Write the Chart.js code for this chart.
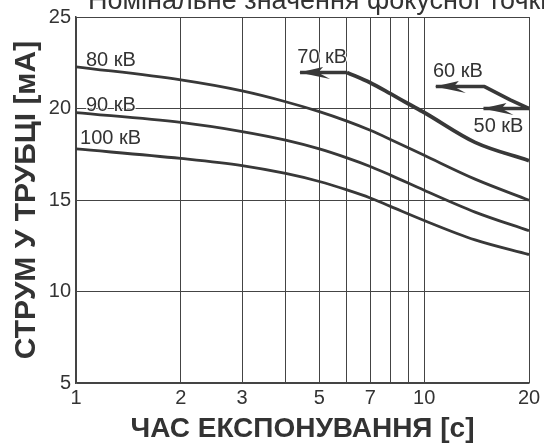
<!DOCTYPE html>
<html>
<head>
<meta charset="utf-8">
<script src="https://cdn.jsdelivr.net/npm/chart.js@4/dist/chart.umd.min.js"></script>
<style>
  html, body { margin: 0; padding: 0; background: #fff; }
  #wrap { width: 544px; height: 446px; }
</style>
</head>
<body>
<div id="wrap"><canvas id="c" width="544" height="446"></canvas></div>
<script>
// Exposure time [s] sample points and tube current [mA] for each tube voltage
const timeSeries = [1, 2, 3, 4, 5, 6, 7, 8, 10, 14, 20];
const current80kV = [22.28, 21.56, 20.96, 20.37, 19.83, 19.31, 18.81, 18.31, 17.44, 16.14, 14.99];
const current90kV = [19.78, 19.24, 18.74, 18.27, 17.79, 17.30, 16.83, 16.36, 15.53, 14.34, 13.32];
const current100kV = [17.79, 17.27, 16.88, 16.45, 16.01, 15.55, 15.11, 14.65, 13.88, 12.82, 12.02];

// Upper limit curve shared by 70/60/50 kV
const timeLimit = [6, 7, 8, 9, 10, 14, 20];
const currentLimit = [21.97, 21.41, 20.81, 20.26, 19.78, 18.15, 17.15];

// Arrow markers: [time, current] pairs, the first point is the arrow tip
const arrow70kV = [[4.4, 21.97], [6, 21.97]];
const arrow60kV = [[10.8, 21.2], [14.9, 21.2], [17.66, 20.47], [20, 20.0]];
const arrow50kV = [[14.8, 20.0], [20, 20.0]];

// Axis ticks
const xGridTicks = [1, 2, 3, 4, 5, 6, 7, 8, 9, 10, 20];
const xLabelTicks = [1, 2, 3, 5, 7, 10, 20];
const yTicks = [5, 10, 15, 20, 25];

// Curve labels, anchored in data space (time, current)
const curveLabels = [
  { text: '80 кВ', t: 1.068, v: 22.6 },
  { text: '90 кВ', t: 1.068, v: 20.19 },
  { text: '100 кВ', t: 1.027, v: 18.37 },
  { text: '70 кВ', t: 4.32, v: 22.77 },
  { text: '60 кВ', t: 10.6, v: 22.0 },
  { text: '50 кВ', t: 13.86, v: 19.02 }
];

const chartTitle = 'Номінальне значення фокусної точки';
const xTitle = 'ЧАС ЕКСПОНУВАННЯ [с]';
const yTitle = 'СТРУМ У ТРУБЦІ [мА]';

const FONT = "'Liberation Sans', Arial, sans-serif";
const INK = '#333333';
const LINE = '#383838';

const toPoints = (xs, ys) => xs.map((x, i) => ({ x, y: ys[i] }));
const pairPoints = (pairs) => pairs.map(p => ({ x: p[0], y: p[1] }));

const curve = (data, width) => ({
  data, borderColor: LINE, borderWidth: width, pointRadius: 0,
  cubicInterpolationMode: 'monotone', fill: false
});
const arrow = (data) => ({
  data, borderColor: LINE, borderWidth: 3.6, pointRadius: 0,
  tension: 0, fill: false, arrowHead: true, borderJoinStyle: 'round'
});

// Draws a barbed arrowhead at the first point of flagged datasets
const arrowHeads = {
  id: 'arrowHeads',
  afterDatasetsDraw(chart) {
    const ctx = chart.ctx;
    chart.data.datasets.forEach((ds, i) => {
      if (!ds.arrowHead) return;
      const pts = chart.getDatasetMeta(i).data;
      const p0 = pts[0], p1 = pts[1];
      const ang = Math.atan2(p1.y - p0.y, p1.x - p0.x);
      ctx.save();
      ctx.translate(p0.x, p0.y);
      ctx.rotate(ang);
      ctx.fillStyle = LINE;
      ctx.beginPath();
      ctx.moveTo(-1, 0);
      ctx.lineTo(23, -5.5);
      ctx.lineTo(18, 0);
      ctx.lineTo(30, 6.5);
      ctx.closePath();
      ctx.fill();
      ctx.restore();
    });
  }
};

// Curve labels and the heading line at the very top of the canvas
const annotations = {
  id: 'annotations',
  afterDraw(chart) {
    const ctx = chart.ctx;
    const xs = chart.scales.x, ys = chart.scales.y;
    ctx.save();
    ctx.font = '20px ' + FONT;
    ctx.textAlign = 'left';
    ctx.textBaseline = 'middle';
    curveLabels.forEach(l => {
      const px = xs.getPixelForValue(l.t);
      const py = ys.getPixelForValue(l.v);
      ctx.lineWidth = 2;
      ctx.strokeStyle = '#ffffff';
      ctx.strokeText(l.text, px, py);
      ctx.fillStyle = INK;
      ctx.fillText(l.text, px, py);
    });
    ctx.font = '27px ' + FONT;
    ctx.textBaseline = 'alphabetic';
    ctx.fillStyle = INK;
    ctx.fillText(chartTitle, 88, 9);
    ctx.restore();
  }
};

new Chart(document.getElementById('c'), {
  type: 'line',
  data: {
    datasets: [
      curve(toPoints(timeSeries, current80kV), 2.8),
      curve(toPoints(timeSeries, current90kV), 2.8),
      curve(toPoints(timeSeries, current100kV), 2.8),
      curve(toPoints(timeLimit, currentLimit), 3.8),
      arrow(pairPoints(arrow70kV)),
      arrow(pairPoints(arrow60kV)),
      arrow(pairPoints(arrow50kV))
    ]
  },
  options: {
    responsive: false,
    animation: false,
    events: [],
    layout: { padding: { top: 15, right: 15, left: 0, bottom: 0 } },
    plugins: { legend: { display: false }, tooltip: { enabled: false }, title: { display: false } },
    scales: {
      x: {
        type: 'logarithmic',
        min: 1, max: 20,
        afterBuildTicks(scale) { scale.ticks = xGridTicks.map(v => ({ value: v })); },
        afterFit(scale) { scale.height = 63; },
        ticks: {
          autoSkip: false, maxRotation: 0, padding: 3, color: INK,
          font: { family: FONT, size: 20 },
          callback: (v) => xLabelTicks.includes(v) ? String(v) : ''
        },
        grid: { color: '#444444', lineWidth: 1, drawTicks: false },
        border: { color: '#444444', width: 1.5 },
        title: {
          display: true, text: xTitle, color: INK,
          font: { family: FONT, size: 28, weight: 'bold' },
          padding: { top: 0, bottom: 0 }
        }
      },
      y: {
        type: 'linear',
        min: 5, max: 25,
        afterBuildTicks(scale) { scale.ticks = yTicks.map(v => ({ value: v })); },
        afterFit(scale) { scale.width = 76; },
        ticks: {
          padding: 5, color: INK,
          font: { family: FONT, size: 20 }
        },
        grid: { color: '#444444', lineWidth: 1, drawTicks: false },
        border: { color: '#444444', width: 1.5 },
        title: {
          display: true, text: yTitle, color: INK,
          font: { family: FONT, size: 30, weight: 'bold' },
          padding: { top: 9, bottom: 0 }
        }
      }
    }
  },
  plugins: [arrowHeads, annotations]
});
</script>
</body>
</html>
